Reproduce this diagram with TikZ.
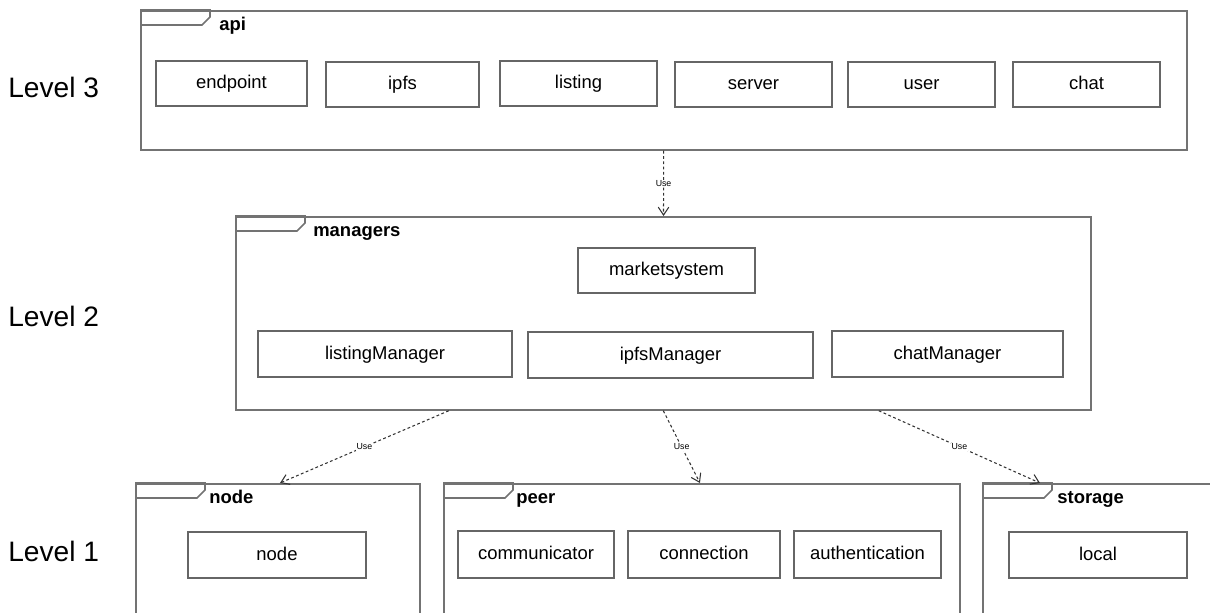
\documentclass[tikz,border=0pt]{standalone}
\usepackage{fontspec}
\setmainfont{Liberation Sans}
\usetikzlibrary{arrows.meta}

\begin{document}
\begin{tikzpicture}[x=0.02cm, y=-0.02cm,
  pkg/.style={draw=black!55, line width=1pt, anchor=north west, inner sep=0},
  tab/.style={draw=black!55, line width=0.9pt},
  pkglbl/.style={anchor=base west, inner sep=0, font=\fontsize{10.5}{12}\selectfont\bfseries},
  comp/.style={draw=black!60, line width=0.8pt, minimum height=0.9cm,
    text height=0.8em, text depth=0.2em, font=\fontsize{10.5}{12}\selectfont},
  level/.style={anchor=west, inner sep=0, font=\fontsize{16}{19}\selectfont},
  uses/.style={draw=black!80, line width=0.6pt, dash pattern=on 1.6pt off 1.4pt,
    -{Straight Barb[length=4.5pt, width=6pt]}},
  uselbl/.style={fill=white, inner sep=0.4pt, font=\fontsize{5}{6}\selectfont}]

\useasboundingbox (0,0) rectangle (1210,612);
\clip (0,0) rectangle (1210,612);

% levels
\node[level] (l3) at (8,87) {Level 3};
\node[level] (l2) at (8,316) {Level 2};
\node[level] (l1) at (8,551) {Level 1};

% packages
\node[pkg, minimum width=20.92cm, minimum height=2.78cm] (api) at (140,10) {};
\node[pkg, minimum width=17.1cm, minimum height=3.86cm] (managers) at (235,216) {};
\node[pkg, minimum width=5.68cm, minimum height=3.4cm] (nodepkg) at (135,483) {};
\node[pkg, minimum width=10.32cm, minimum height=3.4cm] (peer) at (443,483) {};
\node[pkg, minimum width=6cm, minimum height=3.4cm] (storage) at (982,483) {};

\foreach \f in {api,managers,nodepkg,peer,storage}
  \draw[tab] (\f.north west) -- ++(70,0) -- ++(0,7) -- ++(-8,8) -- ++(-62,0);

\node[pkglbl] (apilbl) at ([xshift=1.58cm, yshift=-0.42cm]api.north west) {api};
\node[pkglbl] (managerslbl) at ([xshift=1.56cm, yshift=-0.41cm]managers.north west) {managers};
\node[pkglbl] (nodelbl) at ([xshift=1.48cm, yshift=-0.4cm]nodepkg.north west) {node};
\node[pkglbl] (peerlbl) at ([xshift=1.46cm, yshift=-0.4cm]peer.north west) {peer};
\node[pkglbl] (storagelbl) at ([xshift=1.5cm, yshift=-0.4cm]storage.north west) {storage};

% api
\node[comp, minimum width=3.02cm] (endpoint) at (231.5,83.5) {endpoint};
\node[comp, minimum width=3.06cm] (ipfs) at (402.5,84.5) {ipfs};
\node[comp, minimum width=3.14cm] (listing) at (578.5,83.5) {listing};
\node[comp, minimum width=3.14cm] (server) at (753.5,84.5) {server};
\node[comp, minimum width=2.94cm] (user) at (921.5,84.5) {user};
\node[comp, minimum width=2.94cm] (chat) at (1086.5,84.5) {chat};

% managers
\node[comp, minimum width=3.54cm] (marketsystem) at (666.5,270.5) {marketsystem};
\node[comp, minimum width=5.08cm, minimum height=0.92cm] (listingManager) at (385,354) {listingManager};
\node[comp, minimum width=5.7cm, minimum height=0.92cm] (ipfsManager) at (670.5,355) {ipfsManager};
\node[comp, minimum width=4.62cm, minimum height=0.92cm] (chatManager) at (947.5,354) {chatManager};

% node, peer, storage
\node[comp, minimum width=3.56cm, minimum height=0.92cm] (node) at (277,555) {node};
\node[comp, minimum width=3.12cm, minimum height=0.94cm] (communicator) at (536,554.5) {communicator};
\node[comp, minimum width=3.04cm, minimum height=0.94cm] (connection) at (704,554.5) {connection};
\node[comp, minimum width=2.94cm, minimum height=0.94cm] (authentication) at (867.5,554.5) {authentication};
\node[comp, minimum width=3.56cm, minimum height=0.92cm] (local) at (1098,555) {local};

\draw [uses] (api) -- node[uselbl] {Use} (managers);
\draw [uses] ([xshift=-4.29cm]managers.south) -- node[uselbl] {Use} ([xshift=2.9cm]nodepkg.north west);
\draw [uses] (managers.south) -- node[uselbl] {Use} ([xshift=5.14cm]peer.north west);
\draw [uses] ([xshift=4.31cm]managers.south) -- node[uselbl] {Use} ([xshift=1.16cm]storage.north west);
\end{tikzpicture}
\end{document}
